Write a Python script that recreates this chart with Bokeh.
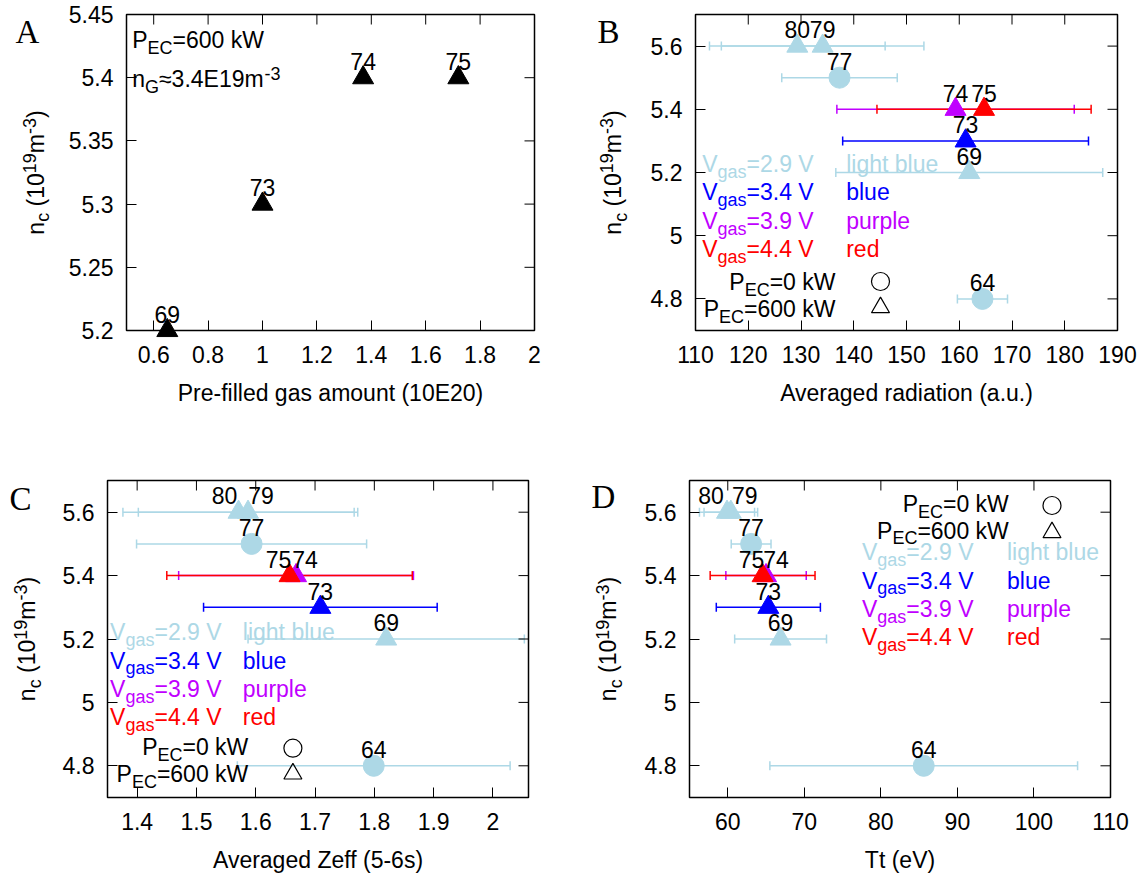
import math

from bokeh.core.properties import value
from bokeh.embed import file_html
from bokeh.layouts import column, row
from bokeh.models import (ColumnDataSource, FixedTicker, GridBox, Label,
                          Range1d, TeeHead, Whisker)
from bokeh.plotting import figure
from bokeh.resources import INLINE

# ---------------------------------------------------------------- data
SHOTS = ["64", "69", "73", "74", "75", "77", "79", "80"]
NC = [4.8, 5.2, 5.3, 5.4, 5.4, 5.5, 5.6, 5.6]           # 10^19 m^-3
SHOT_VGAS = ["2.9", "2.9", "3.4", "3.9", "4.4", "2.9", "2.9", "2.9"]
SHOT_PEC = [0, 600, 600, 600, 600, 0, 600, 600]         # kW

RAD = [164.4, 161.9, 161.2, 159.3, 164.7, 137.3, 134.1, 129.3]
RAD_ERR = [4.75, 25.3, 23.3, 22.5, 20.3, 10.95, 19.2, 16.65]
ZEFF = [1.799, 1.82, 1.709, 1.668, 1.657, 1.593, 1.587, 1.571]
ZEFF_ERR = [0.23, 0.233, 0.197, 0.198, 0.207, 0.194, 0.185, 0.195]
TT = [85.6, 66.9, 65.3, 65.0, 64.55, 63.05, 60.4, 59.9]
TT_ERR = [20.1, 6.0, 6.8, 5.25, 6.85, 2.6, 3.5, 3.6]

A_SHOTS = ["69", "73", "74", "75"]
A_GAS = [0.65, 1.0, 1.37, 1.72]                          # 10E20
A_NC = [5.2, 5.3, 5.4, 5.4]

VGAS = ["2.9", "3.4", "3.9", "4.4"]
VGAS_COLORS = ["#add8e6", "#0000ff", "#c000ff", "#ff0000"]
COLOR_WORDS = ["light blue", "blue", "purple", "red"]

A_XR, A_YR = (0.5, 2.0), (5.2, 5.45)
NC_YR = (4.7, 5.7)
A_XTICKS = [0.6, 0.8, 1.0, 1.2, 1.4, 1.6, 1.8, 2.0]
A_XLABELS = ["0.6", "0.8", "1", "1.2", "1.4", "1.6", "1.8", "2"]
A_YTICKS = [5.2, 5.25, 5.3, 5.35, 5.4, 5.45]
A_YLABELS = ["5.2", "5.25", "5.3", "5.35", "5.4", "5.45"]
NC_TICKS = [4.8, 5.0, 5.2, 5.4, 5.6]
NC_LABELS = ["4.8", "5", "5.2", "5.4", "5.6"]
B_XTICKS = [110, 120, 130, 140, 150, 160, 170, 180, 190]
B_XLABELS = [str(t) for t in B_XTICKS]
C_XTICKS = [1.4, 1.5, 1.6, 1.7, 1.8, 1.9, 2.0]
C_XLABELS = ["1.4", "1.5", "1.6", "1.7", "1.8", "1.9", "2"]
D_XTICKS = [60, 70, 80, 90, 100, 110]
D_XLABELS = [str(t) for t in D_XTICKS]

X_TITLES = {"A": "Pre-filled gas amount (10E20)", "B": "Averaged radiation (a.u.)",
            "C": "Averaged Zeff (5-6s)", "D": "Tt (eV)"}

# label nudges (px) where two shot numbers would collide
C_LABEL_DX = {"80": -14, "79": 13, "75": -11, "74": 9}
D_LABEL_DX = {"80": -16, "79": 14, "75": -11, "74": 10}

# ---------------------------------------------------------------- geometry
PAGE_W, PAGE_H = 1146, 880
# figure origin on the page and its borders around the frame
GEOM = {
    "A": dict(ox=0, oy=0, h=450, left=126, right=39, top=14, bottom=120,
              letter=(-111, 29), ytitle=-82.7),
    "B": dict(ox=573, oy=0, h=450, left=122, right=29, top=14, bottom=120,
              letter=(-98, 29), ytitle=-74.5),
    "C": dict(ox=0, oy=450, h=430, left=107, right=45, top=30, bottom=83,
              letter=(-98, 30), ytitle=-72.3),
    "D": dict(ox=573, oy=450, h=430, left=116, right=36, top=30, bottom=83,
              letter=(-98, 28), ytitle=-72.9),
}
FIG_W = 573


def frame_box(key):
    g = GEOM[key]
    fw = FIG_W - g["left"] - g["right"]
    fh = g["h"] - g["top"] - g["bottom"]
    return g["ox"] + g["left"], g["oy"] + g["top"], fw, fh


# ---------------------------------------------------------------- text helpers
FONT = "Liberation Sans"
MAIN, SMALL = 23, 18
SUB_DY, SUP_DY = 6, 8
MID = 0.358          # text is anchored on its cap-height middle
TICK_LEN = 10
ADV = {' ': 278, '(': 333, ')': 333, '-': 333, '.': 278, '=': 584, '\u2248': 584,
       'A': 667, 'C': 722, 'E': 667, 'G': 778, 'P': 667, 'V': 667, 'W': 944,
       'a': 556, 'b': 556, 'c': 500, 'd': 556, 'e': 556, 'g': 556, 'h': 556,
       'i': 222, 'k': 500, 'l': 222, 'm': 833, 'n': 556, 'o': 556, 'p': 556,
       'r': 333, 's': 500, 't': 278, 'u': 556}


def text_width(s, size):
    return sum(ADV.get(ch, 556) for ch in s) * size / 1000.0


def label(p, x, y, text, size=MAIN, color="black", align="left", angle=0.0,
          font=FONT, xr="px", yr="py"):
    """Place text whose baseline passes through (x, y); y grows downwards."""
    if angle:
        x = x - MID * size
    else:
        y = y - MID * size
    p.add_layout(Label(x=x, y=y, text=text, text_font=font,
                       text_font_size=f"{size}px", text_color=color,
                       text_align=align, text_baseline="alphabetic",
                       angle=angle, x_range_name=xr, y_range_name=yr))


def rich_text(p, x, y, parts, color="black", align="left", vertical=False,
              xr="px", yr="py"):
    """Text with sub/superscripts, starting (or ending) at baseline point x, y."""
    widths = [text_width(t, SMALL if k else MAIN) for t, k in parts]
    total = sum(widths)
    if vertical:
        pos = y + total / 2.0
    else:
        pos = x - total if align == "right" else x
    for (t, k), w in zip(parts, widths):
        shift = SUB_DY if k == "sub" else (-SUP_DY if k == "sup" else 0)
        size = SMALL if k else MAIN
        body = t.lstrip(" ")
        lead = text_width(t[:len(t) - len(body)], size)   # leading blanks
        if vertical:
            label(p, x + shift, pos - lead, body, size, color, angle=math.pi / 2,
                  xr=xr, yr=yr)
            pos -= w
        else:
            label(p, pos + lead, y + shift, body, size, color, xr=xr, yr=yr)
            pos += w


NC_TITLE = [("n", ""), ("c", "sub"), (" (10", ""), ("19", "sup"), ("m", ""),
            ("-3", "sup"), (")", "")]


# ---------------------------------------------------------------- panel frame
def style_axis(ax, ticks, labels, standoff):
    ax.ticker = FixedTicker(ticks=ticks)
    ax.axis_line_color = None
    ax.major_tick_in = TICK_LEN
    ax.major_tick_out = 0
    ax.major_tick_line_color = "black"
    ax.major_tick_line_width = 1
    ax.minor_tick_line_color = None
    ax.major_label_overrides = dict(zip(ticks, labels))
    ax.major_label_text_font = FONT
    ax.major_label_text_font_size = f"{MAIN}px"
    ax.major_label_text_color = "black"
    ax.major_label_standoff = standoff


def make_panel(key, xr, yr, xticks, xlabels, yticks, ylabels):
    g = GEOM[key]
    _, _, fw, fh = frame_box(key)
    p = figure(width=FIG_W, height=g["h"], x_range=Range1d(*xr),
               y_range=Range1d(*yr), output_backend="svg",
               toolbar_location=None, tools="",
               min_border_left=g["left"], min_border_right=g["right"],
               min_border_top=g["top"], min_border_bottom=g["bottom"])
    p.extra_x_ranges = {"px": Range1d(0, fw)}
    p.extra_y_ranges = {"py": Range1d(fh, 0)}
    p.xgrid.visible = False
    p.ygrid.visible = False
    p.outline_line_color = "black"
    p.outline_line_width = 1.5
    p.background_fill_color = "white"
    p.border_fill_color = "white"

    style_axis(p.xaxis[0], xticks, xlabels, standoff=15)
    style_axis(p.yaxis[0], yticks, ylabels, standoff=13)

    # mirrored inward ticks on the top and right edges
    p.segment(x0=xticks, x1=xticks, y0=[0] * len(xticks),
              y1=[TICK_LEN] * len(xticks), y_range_name="py",
              line_color="black", line_width=1)
    p.segment(x0=[fw] * len(yticks), x1=[fw - TICK_LEN] * len(yticks),
              y0=yticks, y1=yticks, x_range_name="px",
              line_color="black", line_width=1)
    return p


def draw_shots(p, xs, errs, label_dx):
    """Error bars, markers and shot numbers, grouped by gas-valve voltage."""
    for v, color in zip(VGAS, VGAS_COLORS):
        idx = [i for i, g in enumerate(SHOT_VGAS) if g == v]
        src = ColumnDataSource(dict(
            x=[xs[i] for i in idx],
            y=[NC[i] for i in idx],
            lo=[xs[i] - errs[i] for i in idx],
            hi=[xs[i] + errs[i] for i in idx],
            marker=["circle" if SHOT_PEC[i] == 0 else "triangle" for i in idx],
        ))
        p.add_layout(Whisker(source=src, base="y", lower="lo", upper="hi",
                             dimension="width", line_color=color, line_width=1.5,
                             lower_head=TeeHead(size=9, line_color=color, line_width=1.5),
                             upper_head=TeeHead(size=9, line_color=color, line_width=1.5)))
        p.scatter(x="x", y="y", marker="marker", size=21, source=src,
                  fill_color=color, line_color=color)
    lab = ColumnDataSource(dict(x=xs, y=NC, text=SHOTS,
                                dx=[label_dx.get(s, 0) for s in SHOTS]))
    p.text(x="x", y="y", text="text", source=lab, x_offset="dx",
           y_offset=-(8 + MID * MAIN), text_align="center",
           text_baseline="alphabetic", text_font=value(FONT),
           text_font_size=f"{MAIN}px", text_color="black")


def draw_key(p, lay):
    for k, (v, color, word) in enumerate(zip(VGAS, VGAS_COLORS, COLOR_WORDS)):
        y = lay["v_y"][k]
        rich_text(p, lay["v_x"], y, [("V", ""), ("gas", "sub"), (f"={v} V", "")],
                  color=color)
        rich_text(p, lay["word_x"], y, [(word, "")], color=color)
    for k, pec in enumerate([0, 600]):
        rich_text(p, lay["p_right"], lay["p_y"][k],
                  [("P", ""), ("EC", "sub"), (f"={pec} kW", "")], align="right")
    p.scatter(x=[lay["m_x"]] * 2, y=lay["m_y"], marker=["circle", "triangle"],
              size=18, fill_color=None, line_color="black", line_width=1.2,
              x_range_name="px", y_range_name="py")


# ---------------------------------------------------------------- panel A
pa = make_panel("A", A_XR, A_YR, A_XTICKS, A_XLABELS, A_YTICKS, A_YLABELS)
pa.text(x=A_GAS, y=A_NC, text=A_SHOTS, y_offset=-(8 + MID * MAIN),
        text_align="center", text_baseline="alphabetic", text_font=value(FONT),
        text_font_size=f"{MAIN}px", text_color="black")
rich_text(pa, 5.7, 34, [("P", ""), ("EC", "sub"), ("=600 kW", "")])
rich_text(pa, 5.7, 73, [("n", ""), ("G", "sub"), ("\u22483.4E19m", ""), ("-3", "sup")])

# ---------------------------------------------------------------- panel B
pb = make_panel("B", (110, 190), NC_YR, B_XTICKS, B_XLABELS, NC_TICKS, NC_LABELS)
draw_shots(pb, RAD, RAD_ERR, {})
draw_key(pb, dict(v_x=6.7, word_x=150.7, v_y=[157.5, 186, 214.5, 243],
                  p_right=140, p_y=[276, 302.7], m_x=185, m_y=[267, 293]))

# ---------------------------------------------------------------- panel C
pc = make_panel("C", (1.35, 2.06), NC_YR, C_XTICKS, C_XLABELS, NC_TICKS, NC_LABELS)
draw_shots(pc, ZEFF, ZEFF_ERR, C_LABEL_DX)
draw_key(pc, dict(v_x=2.6, word_x=135.3, v_y=[160, 188.3, 216.7, 245],
                  p_right=140.8, p_y=[275, 301.7], m_x=185.4, m_y=[267.7, 293.3]))

# ---------------------------------------------------------------- panel D
pd = make_panel("D", (55, 110), NC_YR, D_XTICKS, D_XLABELS, NC_TICKS, NC_LABELS)
draw_shots(pd, TT, TT_ERR, D_LABEL_DX)
draw_key(pd, dict(v_x=172.5, word_x=317.5, v_y=[80, 108.3, 136.7, 165],
                  p_right=319.3, p_y=[31.7, 58.3], m_x=362.5, m_y=[25, 52]))

# ---------------------------------------------------------------- page layer
# a transparent full-page layer on top carries what sits in the panel
# margins: panel letters, axis titles and the marker that overhangs frame A
page = figure(width=PAGE_W, height=PAGE_H, x_range=Range1d(0, PAGE_W),
              y_range=Range1d(PAGE_H, 0), output_backend="svg",
              toolbar_location=None, tools="", x_axis_location=None,
              y_axis_location=None, min_border=0)
page.xgrid.visible = False
page.ygrid.visible = False
page.outline_line_color = None
page.background_fill_color = None
page.border_fill_color = None

for key in GEOM:
    g = GEOM[key]
    fx0, fy0, fw, fh = frame_box(key)
    label(page, fx0 + g["letter"][0], fy0 + g["letter"][1], key, size=33,
          font="Liberation Serif", xr="default", yr="default")
    label(page, fx0 + fw / 2.0, fy0 + fh + 71, X_TITLES[key], align="center",
          xr="default", yr="default")
    rich_text(page, fx0 + g["ytitle"], fy0 + fh / 2.0, NC_TITLE, vertical=True,
              xr="default", yr="default")

# panel A's data scales extended over the whole page layer
ax0, ay0, afw, afh = frame_box("A")
dx = (A_XR[1] - A_XR[0]) / afw
dy = (A_YR[1] - A_YR[0]) / afh
page.extra_x_ranges = {"a_x": Range1d(A_XR[0] - ax0 * dx, A_XR[0] + (PAGE_W - ax0) * dx)}
page.extra_y_ranges = {"a_y": Range1d(A_YR[1] - (PAGE_H - ay0) * dy, A_YR[1] + ay0 * dy)}
page.scatter(x=A_GAS, y=A_NC, marker="triangle", size=21, fill_color="black",
             line_color="black", x_range_name="a_x", y_range_name="a_y")

panels = column(row(pa, pb), row(pc, pd))
layout = GridBox(children=[(panels, 0, 0), (page, 0, 0)], spacing=0)
open("out.html", "w").write(file_html(layout, INLINE))
